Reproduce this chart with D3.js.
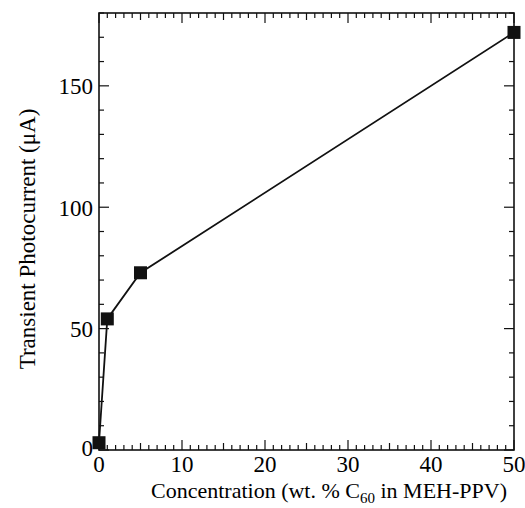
<!DOCTYPE html>
<html><head><meta charset="utf-8">
<script src="https://cdn.jsdelivr.net/npm/d3@7"></script>
<style>body{margin:0;background:#fff} svg text, svg tspan{font-family:"Liberation Serif","Times New Roman",Times,serif !important}</style>
</head><body>
<script>
const concentration = [0, 1, 5, 50];
const photocurrent = [3, 54, 73, 172];
const xTickLabels = [0, 10, 20, 30, 40, 50];
const yTickLabels = [0, 50, 100, 150];

const W = 525, H = 508;
const m = {left: 99, right: 11, top: 13, bottom: 58};
const svg = d3.select("body").append("svg").attr("width", W).attr("height", H);
const x = d3.scaleLinear().domain([0, 50]).range([m.left, W - m.right]);
const y = d3.scaleLinear().domain([0, 180]).range([H - m.bottom, m.top]);

svg.append("rect").attr("x", x(0)).attr("y", y(180)).attr("width", x(50) - x(0)).attr("height", y(0) - y(180))
  .attr("fill", "none").attr("stroke", "#111").attr("stroke-width", 1.6);

d3.range(0, 51, 1).forEach(v => {
  const len = v % 10 === 0 ? 10 : (v % 5 === 0 ? 7 : 5);
  svg.append("line").attr("x1", x(v)).attr("x2", x(v)).attr("y1", y(0)).attr("y2", y(0) - len).attr("stroke", "#111").attr("stroke-width", 1.2);
  svg.append("line").attr("x1", x(v)).attr("x2", x(v)).attr("y1", y(180)).attr("y2", y(180) + len).attr("stroke", "#111").attr("stroke-width", 1.2);
});
d3.range(0, 181, 10).forEach(v => {
  const len = v % 50 === 0 ? 10 : 5;
  svg.append("line").attr("y1", y(v)).attr("y2", y(v)).attr("x1", x(0)).attr("x2", x(0) + len).attr("stroke", "#111").attr("stroke-width", 1.2);
  svg.append("line").attr("y1", y(v)).attr("y2", y(v)).attr("x1", x(50)).attr("x2", x(50) - len).attr("stroke", "#111").attr("stroke-width", 1.2);
});

const SERIF = "Liberation Serif";
xTickLabels.forEach(d => {
  svg.append("text").attr("x", x(d)).attr("y", y(0) + 22).attr("text-anchor", "middle")
    .attr("font-family", SERIF).attr("font-size", 23).text(d);
});
yTickLabels.forEach(d => {
  svg.append("text").attr("x", x(0) - 6).attr("y", y(d) + (d === 0 ? 6 : 8.5)).attr("text-anchor", "end")
    .attr("font-family", SERIF).attr("font-size", 23).text(d);
});

const pts = concentration.map((c, i) => [c, photocurrent[i]]);
svg.append("path").datum(pts)
  .attr("d", d3.line().x(d => x(d[0])).y(d => y(d[1])))
  .attr("fill", "none").attr("stroke", "#111").attr("stroke-width", 1.8);
pts.forEach(d => {
  svg.append("rect").attr("x", x(d[0]) - 6.5).attr("y", y(d[1]) - 6.5).attr("width", 13).attr("height", 13).attr("fill", "#111");
});

const xt = svg.append("text").attr("x", 329).attr("y", 498).attr("text-anchor", "middle")
  .attr("font-family", SERIF).attr("font-size", 22);
xt.append("tspan").text("Concentration (wt. % C");
xt.append("tspan").attr("font-size", 15).attr("dy", 5).text("60");
xt.append("tspan").attr("dy", -5).text(" in MEH-PPV)");

svg.append("text").attr("transform", "translate(35,239) rotate(-90)")
  .attr("text-anchor", "middle").attr("font-family", SERIF).attr("font-size", 23)
  .text("Transient Photocurrent (μA)");
</script>
</body></html>
